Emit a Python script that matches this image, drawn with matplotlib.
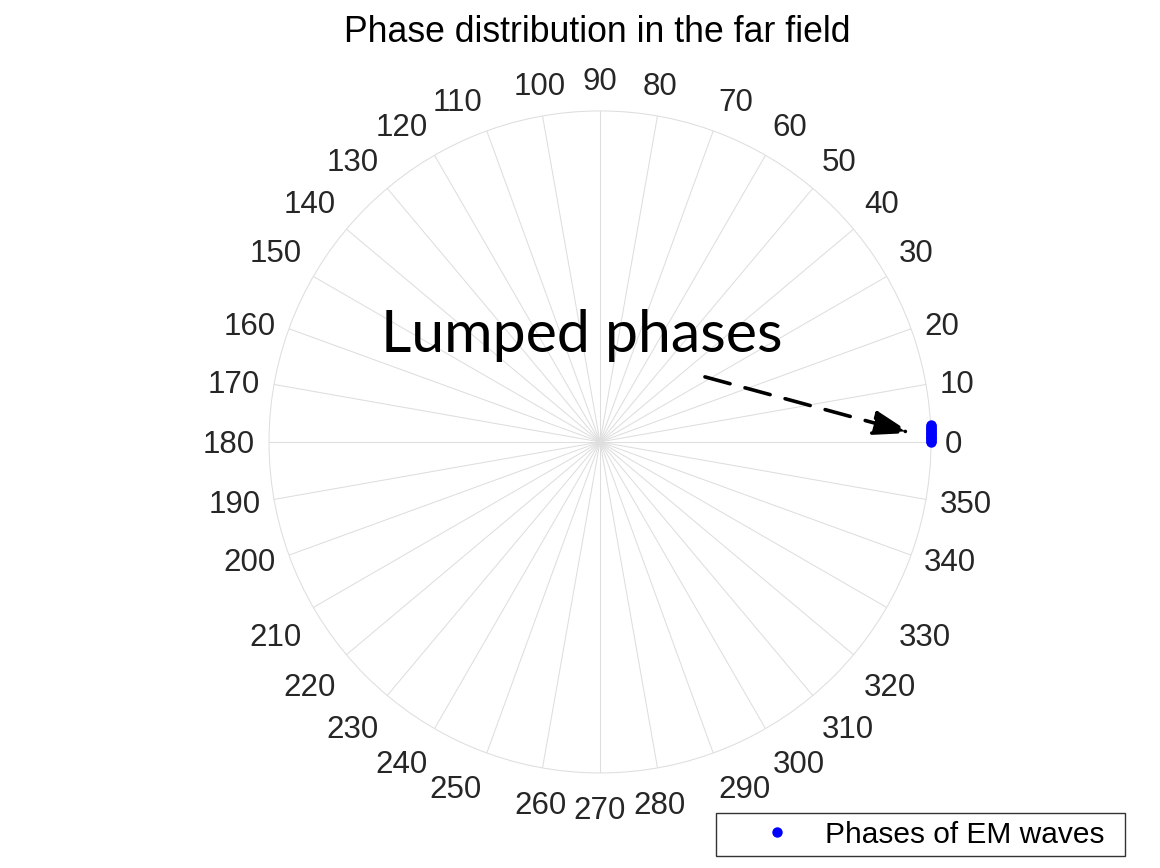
import matplotlib.pyplot as plt
import numpy as np

# phases of the EM waves in the far field (degrees), all at unit amplitude
phases_deg = [0.0, 0.2, 0.5, 0.7, 0.9, 1.1, 1.4, 1.6, 1.8, 2.0, 2.2, 2.5, 2.7, 2.9]
amplitude = [1.0, 1.0, 1.0, 1.0, 1.0, 1.0, 1.0, 1.0, 1.0, 1.0, 1.0, 1.0, 1.0, 1.0]
tick_deg = list(range(0, 360, 10))

grid_col = "#dedede"
text_col = "#262626"

fig = plt.figure(figsize=(11.6, 8.68), dpi=100)
ax = fig.add_axes([0.2319, 0.1095, 0.5707, 0.7627], projection="polar")

ax.plot(np.deg2rad(phases_deg), amplitude, "o", color="#0000ff", ms=7.5,
        mec="none", clip_on=False, zorder=5, label="Phases of EM waves")

ax.set_ylim(0, 1)
ax.set_rticks([])
ax.set_thetagrids(tick_deg, labels=[""] * len(tick_deg))
ax.grid(color=grid_col, lw=0.75)
ax.spines["polar"].set_color(grid_col)
ax.spines["polar"].set_linewidth(0.75)

# theta labels just outside the circle, aligned the way MATLAB does it
for a in tick_deg:
    c, s = np.cos(np.deg2rad(a)), np.sin(np.deg2rad(a))
    ha = "center" if abs(c) < 0.2 else ("left" if c > 0 else "right")
    if abs(s) < 0.4:
        va, dy = "center", -3
    elif s > 0:
        va, dy = "bottom", 0
    else:
        va, dy = "top", -9
    ax.annotate(str(a), xy=(np.deg2rad(a), 1.042), xytext=(0, dy),
                textcoords="offset pixels", ha=ha, va=va, fontsize=22.5,
                color=text_col, family="Liberation Sans", annotation_clip=False)

fig.text(597 / 1160, 1 - 42 / 868, "Phase distribution in the far field",
         ha="center", va="baseline", fontsize=25.7, family="Liberation Sans")

fig.text(381 / 1160, 1 - 352 / 868, "Lumped phases", ha="left", va="baseline",
         fontsize=42.5, family="Lato")

# dashed arrow pointing at the cluster
ax.annotate("", xy=(np.deg2rad(1.65), 0.94), xytext=(np.deg2rad(31.8), 0.373),
            arrowprops=dict(arrowstyle="-|>,head_length=0.4,head_width=0.13",
                            mutation_scale=58, lw=2.6, color="black",
                            linestyle=(0, (7.2, 4.3)), shrinkA=0, shrinkB=0))

ax.legend(loc="lower left", bbox_to_anchor=(0.617, 0.0138, 0.353, 0.0553),
          bbox_transform=fig.transFigure, mode="expand", borderaxespad=0,
          fancybox=False, edgecolor="#333333", framealpha=1,
          prop={"family": "Liberation Sans", "size": 21.5},
          borderpad=0.25, handlelength=3.58, handletextpad=-0.16, numpoints=1)
ax.get_legend().get_frame().set_linewidth(1.0)

fig.savefig("out.png", dpi=100)
